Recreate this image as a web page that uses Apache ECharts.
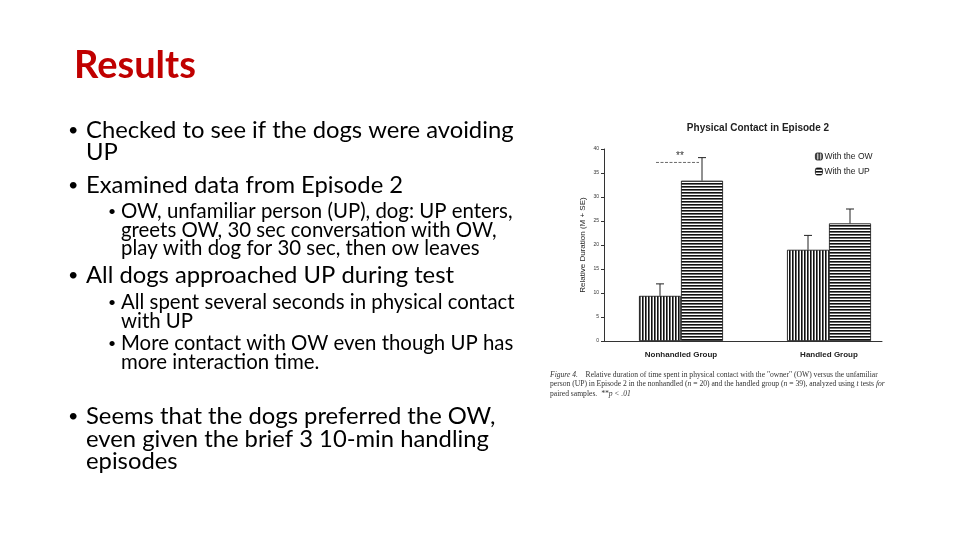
<!DOCTYPE html>
<html><head><meta charset="utf-8">
<script src="https://cdn.jsdelivr.net/npm/echarts@6/dist/echarts.min.js"></script>
<style>html,body{margin:0;padding:0;background:#fff}#c{width:960px;height:540px}</style>
</head><body><div id="c"></div>
<script>
const categories = ['Nonhandled Group', 'Handled Group'];
const seriesNames = ['With the OW', 'With the UP'];
const owMean = [9.4, 19.0];
const upMean = [33.4, 24.5];
const owSE = [2.5, 3.0];
const upSE = [4.8, 3.0];
const yTicks = [0, 5, 10, 15, 20, 25, 30, 35, 40];
const sigLevel = [37.2];
const sigLabel = '**';

function stripe(vertical) {
  const c = document.createElement('canvas');
  c.width = 3; c.height = 3;
  const g = c.getContext('2d');
  g.fillStyle = '#fff'; g.fillRect(0, 0, 3, 3);
  g.fillStyle = '#111';
  if (vertical) g.fillRect(0, 0, 1.6, 3); else g.fillRect(0, 0, 3, 1.6);
  return c;
}
const owPat = { image: stripe(true), repeat: 'repeat' };
const upPat = { image: stripe(false), repeat: 'repeat' };

const chart = echarts.init(document.getElementById('c'));
const slideFont = 'Lato, "Open Sans", sans-serif';
const txt = (x, y, s, size) => ({
  type: 'text', x: x, y: y,
  style: { text: s, font: size + 'px ' + slideFont, fill: '#000', textVerticalAlign: 'middle', textAlign: 'left' }
});
const M = 23.8, S = 20.4;

const barW = 42;
function errItem(means, ses, sign) {
  return function (params, api) {
    const i = api.value(0);
    const p = api.coord([i, means[i]]);
    const q = api.coord([i, means[i] + ses[i]]);
    const x = p[0] + sign * barW / 2;
    return {
      type: 'group', children: [
        { type: 'line', shape: { x1: x, y1: p[1], x2: x, y2: q[1] }, style: { stroke: '#222', lineWidth: 1 } },
        { type: 'line', shape: { x1: x - 4, y1: q[1], x2: x + 4, y2: q[1] }, style: { stroke: '#222', lineWidth: 1 } }
      ]
    };
  };
}

chart.setOption({
  animation: false,
  title: {
    text: 'Physical Contact in Episode 2', left: 753, top: 118, textAlign: 'center',
    textStyle: { fontFamily: 'Liberation Sans, Arial', fontWeight: 'bold', fontSize: 10, color: '#222' }
  },
  legend: {
    orient: 'vertical', left: 810, top: 147, itemWidth: 7, itemHeight: 7, itemGap: 6,
    data: seriesNames,
    textStyle: { fontFamily: 'Liberation Sans, Arial', fontSize: 8.5, color: '#222', padding: [0, 0, 0, -3] },
    itemStyle: { borderColor: '#111', borderWidth: 0.8 }
  },
  grid: [
    { left: 607, right: 57, top: 149, bottom: 199 },
    { left: 604, right: 78, top: 149, bottom: 199 }
  ],
  xAxis: [
    {
      type: 'category', data: categories, gridIndex: 0,
      axisLine: { show: false }, axisTick: { show: false },
      axisLabel: { fontFamily: 'Liberation Sans, Arial', fontWeight: 'bold', fontSize: 8, color: '#222', margin: 10 }
    },
    {
      type: 'value', gridIndex: 1, min: 0, max: 1,
      axisLine: { show: true, lineStyle: { color: '#333', width: 1 } },
      axisTick: { show: false }, axisLabel: { show: false }, splitLine: { show: false }
    }
  ],
  yAxis: [
    {
      type: 'value', gridIndex: 0, min: yTicks[0], max: yTicks[yTicks.length - 1], interval: 5, show: false
    },
    {
      type: 'value', gridIndex: 1, min: yTicks[0], max: yTicks[yTicks.length - 1], interval: 5,
      name: 'Relative Duration (M + SE)', nameLocation: 'middle', nameGap: 17,
      nameTextStyle: { fontFamily: 'Liberation Sans, Arial', fontSize: 8, color: '#222' },
      axisLine: { show: true, lineStyle: { color: '#333', width: 1 } },
      axisTick: { show: true, inside: false, length: 3, lineStyle: { color: '#333' } },
      axisLabel: { fontFamily: 'Liberation Sans, Arial', fontSize: 5, color: '#333', margin: 5 },
      splitLine: { show: false }
    }
  ],
  series: [
    {
      name: seriesNames[0], type: 'bar', data: owMean, barWidth: barW, barGap: '0%',
      xAxisIndex: 0, yAxisIndex: 0,
      itemStyle: { color: owPat, borderColor: '#111', borderWidth: 0.8 }
    },
    {
      name: seriesNames[1], type: 'bar', data: upMean, barWidth: barW, barGap: '0%',
      xAxisIndex: 0, yAxisIndex: 0,
      itemStyle: { color: upPat, borderColor: '#111', borderWidth: 0.8 }
    },
    {
      type: 'custom', xAxisIndex: 0, yAxisIndex: 0, data: [[0], [1]], z: 5,
      renderItem: errItem(owMean, owSE, -1)
    },
    {
      type: 'custom', xAxisIndex: 0, yAxisIndex: 0, data: [[0], [1]], z: 5,
      renderItem: errItem(upMean, upSE, 1)
    },
    {
      type: 'custom', xAxisIndex: 0, yAxisIndex: 0, data: [[0, sigLevel[0]]], z: 5,
      renderItem: function (params, api) {
        const p = api.coord([api.value(0), api.value(1)]);
        return {
          type: 'group', children: [
            { type: 'line', shape: { x1: p[0] - barW / 2 - 4, y1: p[1], x2: p[0] + barW / 2 - 3, y2: p[1] },
              style: { stroke: '#444', lineWidth: 0.8, lineDash: [3, 1.5] } },
            { type: 'text', style: { text: sigLabel, x: p[0] - 1, y: p[1] - 1, textAlign: 'center', textVerticalAlign: 'bottom',
              font: '10px Liberation Sans, Arial', fill: '#333' } }
          ]
        };
      }
    }
  ],
  graphic: [
    { type: 'text', x: 74, y: 66, style: { text: 'Results', font: 'bold 38px ' + slideFont, fill: '#C00000', textVerticalAlign: 'middle', textAlign: 'left' } },
    txt(68, 130, '•', 18), txt(86, 130, 'Checked to see if the dogs were avoiding', M),
    txt(86, 152, 'UP', M),
    txt(68, 185, '•', 18), txt(86, 185, 'Examined data from Episode 2', M),
    txt(108, 211, '•', 14), txt(121, 211, 'OW, unfamiliar person (UP), dog: UP enters,', S),
    txt(121, 230, 'greets OW, 30 sec conversation with OW,', S),
    txt(121, 248, 'play with dog for 30 sec, then ow leaves', S),
    txt(68, 275, '•', 18), txt(86, 275, 'All dogs approached UP during test', M),
    txt(108, 302, '•', 14), txt(121, 302, 'All spent several seconds in physical contact', S),
    txt(121, 321, 'with UP', S),
    txt(108, 343, '•', 14), txt(121, 343, 'More contact with OW even though UP has', S),
    txt(121, 362, 'more interaction time.', S),
    txt(68, 416, '•', 18), txt(86, 416, 'Seems that the dogs preferred the OW,', M),
    txt(86, 439, 'even given the brief 3 10-min handling', M),
    txt(86, 461, 'episodes', M),
    { type: 'text', left: 550, top: 370, style: {
      text: '{i|Figure 4.}    Relative duration of time spent in physical contact with the "owner" (OW) versus the unfamiliar\nperson (UP) in Episode 2 in the nonhandled ({i|n} = 20) and the handled group ({i|n} = 39), analyzed using {i|t} tests {i|for}\npaired samples.  {i|**p < .01}',
      font: '7.6px Liberation Serif, serif', fill: '#333', lineHeight: 9.5,
      rich: { i: { fontStyle: 'italic', fontFamily: 'Liberation Serif', fontSize: 7.6, fill: '#333' } }
    } }
  ]
});
</script></body></html>
